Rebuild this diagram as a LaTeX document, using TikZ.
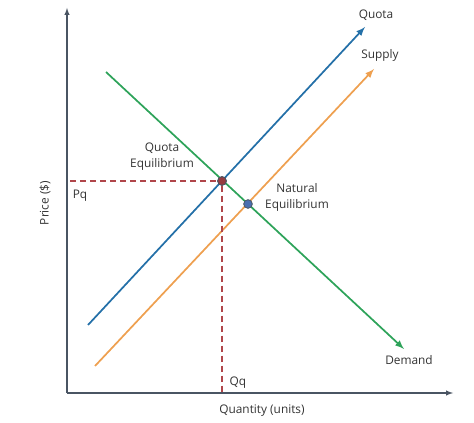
\documentclass[tikz,border=0pt]{standalone}
\usepackage{fontspec}
\setmainfont{Open Sans}
\definecolor{axisgray}{HTML}{4A5563}
\definecolor{quotablue}{HTML}{2470A8}
\definecolor{supplyorange}{HTML}{EEA050}
\definecolor{demandgreen}{HTML}{2EA35A}
\definecolor{dashred}{HTML}{B0464A}
\definecolor{ptblue}{HTML}{4A6FB0}
\tikzset{
  lbl/.style={text=black!80, font=\fontsize{8.9}{11}\selectfont, inner sep=0pt},
  curve/.style={line width=1.3pt, -latex},
  guide/.style={dashred, dash pattern=on 4.5pt off 3pt, line width=0.8pt},
  eqpt/.style={circle, draw=axisgray, line width=0.6pt, minimum size=6.5pt, inner sep=0pt}
}
\begin{document}
\begin{tikzpicture}[x=0.75pt, y=-0.75pt]
  \useasboundingbox (0,0) rectangle (474,423);
  % axes
  \coordinate (o) at (67,393);
  \coordinate (ytop) at (67,8);
  \coordinate (xend) at (453,393);
  \draw[axisgray, line width=0.8pt, -latex] (o) -- (ytop);
  \draw[axisgray, line width=0.8pt, -latex] (o) -- (xend);
  \node[lbl, rotate=90] (ylab) at (45,203) {Price (\$)};
  \node[lbl] (xlab) at (262,411) {Quantity (units)};
  % curves
  \coordinate (q0) at (88,325);
  \coordinate (q1) at (365,27);
  \coordinate (s0) at (95,366);
  \coordinate (s1) at (374,69);
  \coordinate (d0) at (106,72);
  \coordinate (d1) at (404,349);
  \draw[curve, quotablue] (q0) -- (q1);
  \draw[curve, supplyorange] (s0) -- (s1);
  \draw[curve, demandgreen] (d0) -- (d1);
  % equilibria
  \node[eqpt, fill=dashred!85!black] (qeq) at (222,181) {};
  \node[eqpt, fill=ptblue] (neq) at (248,204) {};
  \coordinate (pq) at (70,181);
  \coordinate (qq) at (222,392);
  \draw[guide] (pq) -- (qeq);
  \draw[guide] (qeq) -- (qq);
  \node[eqpt, fill=dashred!85!black] at (qeq) {};
  % labels
  \node[lbl] (quota) at (376,15) {Quota};
  \node[lbl] (supply) at (380,55) {Supply};
  \node[lbl] (demand) at (409,360) {Demand};
  \node[lbl, align=center] (qeqlab) at (162,157) {Quota\\[1pt]Equilibrium};
  \node[lbl, align=center] (neqlab) at (297,197) {Natural\\[1pt]Equilibrium};
  \node[lbl] (pqlab) at (80,196) {Pq};
  \node[lbl] (qqlab) at (238,383) {Qq};
\end{tikzpicture}
\end{document}
